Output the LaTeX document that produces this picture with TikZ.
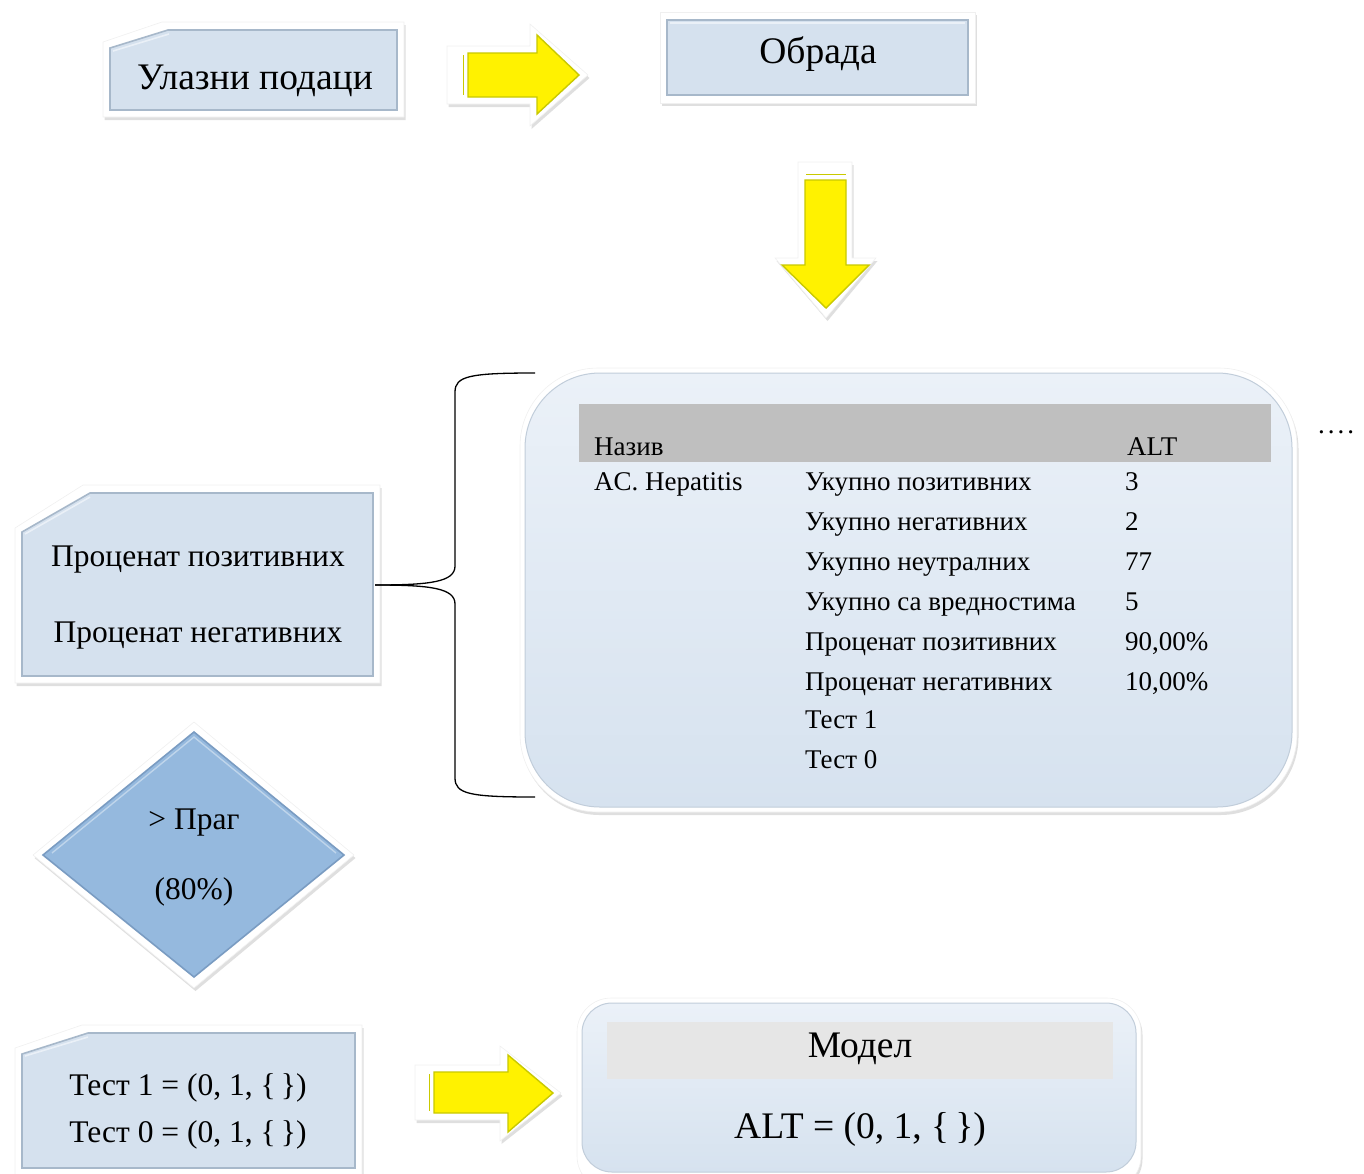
\documentclass[tikz,border=0pt]{standalone}
\usepackage{fontspec}
\setmainfont{Liberation Serif}
\usetikzlibrary{shadows,calc}
\definecolor{panelblue}{HTML}{D5E1EE}
\definecolor{paneledge}{HTML}{A7B8CA}
\definecolor{panellight}{HTML}{EAF0F7}
\definecolor{diafill}{HTML}{95B9DE}
\definecolor{diaedge}{HTML}{7A9CC2}
\definecolor{yellowedge}{HTML}{C9C900}
\definecolor{headgrey}{HTML}{BFBFBF}
\definecolor{modgrey}{HTML}{E6E6E6}
\definecolor{tabtop}{HTML}{EBF1F8}
\definecolor{tabbot}{HTML}{D6E2EF}
\tikzset{
  glow/.style={fill=white, draw=black!6, line width=0.6pt,
    drop shadow={shadow xshift=1.5pt, shadow yshift=-3pt, opacity=0.18, fill=black!70}},
  panel/.style={fill=panelblue, draw=paneledge, line width=1.6pt, line join=miter},
  hilite/.style={draw=panellight, line width=1.6pt},
  yarrow/.style={fill=yellow, draw=yellowedge, line width=1.4pt, line join=miter},
  big/.style={font=\fontsize{37.5}{42}\selectfont, inner sep=0pt},
  mid/.style={font=\fontsize{31.5}{35}\selectfont, inner sep=0pt},
  tbl/.style={font=\fontsize{27}{31}\selectfont, anchor=base west, inner sep=0pt},
}
\begin{document}
\begin{tikzpicture}[x=1pt,y=-1pt]
\useasboundingbox (0,0) rectangle (1364,1173);

% ---- Box: Ulazni podaci
\draw[glow] (103,42) -- (162,22) -- (404,22) -- (404,117) -- (103,117) -- cycle;
\draw[panel] (110,48) -- (168,30) -- (397,30) -- (397,110) -- (110,110) -- cycle;
\draw[hilite] (113,51) -- (169,34);
\node[big] (ulaz) at (255,81) {Улазни подаци};

% ---- Arrow 1
\draw[glow] (447,46) -- (530,46) -- (530,24) -- (588,75) -- (530,126) -- (530,104) -- (447,104) -- cycle;
\draw[yarrow] (468,53) -- (537,53) -- (537,35) -- (579,75) -- (537,114) -- (537,97) -- (468,97) -- cycle;
\draw[yellowedge, line width=1pt] (463,55) -- (463,95);

% ---- Box: Obrada
\draw[glow] (660,12) rectangle (975,103);
\draw[panel] (667,20) rectangle (968,95);
\draw[hilite] (670,23) -- (965,23);
\node[big] (obrada) at (818,54) {Обрада};

% ---- Arrow down
\draw[glow] (798,162) -- (852,162) -- (852,258) -- (876,258) -- (826,318) -- (775,258) -- (798,258) -- cycle;
\draw[yarrow] (805,180) -- (846,180) -- (846,265) -- (869,265) -- (826,308) -- (782,265) -- (805,265) -- cycle;
\draw[yellowedge, line width=1pt] (806,174) -- (846,174);

% ---- Big table box
\draw[glow, rounded corners=78pt] (520,368) rectangle (1297,812);
\shade[top color=tabtop, bottom color=tabbot, draw=paneledge!70, line width=1pt, rounded corners=75pt]
  (525,373) rectangle (1292,807);
\fill[headgrey] (579,404) rectangle (1271,462);
\node[tbl] (hnaz) at (594,455) {Назив};
\node[tbl] (halt) at (1127,455) {ALT};
\node[tbl] (hep) at (594,490) {AC. Hepatitis};
\node[tbl] (r1) at (805,490) {Укупно позитивних};
\node[tbl] (r2) at (805,530) {Укупно негативних};
\node[tbl] (r3) at (805,570) {Укупно неутралних};
\node[tbl] (r4) at (805,610) {Укупно са вредностима};
\node[tbl] (r5) at (805,650) {Проценат позитивних};
\node[tbl] (r6) at (805,690) {Проценат негативних};
\node[tbl] (r7) at (805,728) {Тест 1};
\node[tbl] (r8) at (805,768) {Тест 0};
\node[tbl] (v1) at (1125,490) {3};
\node[tbl] (v2) at (1125,530) {2};
\node[tbl] (v3) at (1125,570) {77};
\node[tbl] (v4) at (1125,610) {5};
\node[tbl] (v5) at (1125,650) {90,00\%};
\node[tbl] (v6) at (1125,690) {10,00\%};
\node[tbl] (dots) at (1318,433) {.\hspace{3pt}.\hspace{3pt}.\hspace{3pt}.};

% ---- Box: Procenat
\draw[glow] (15,528) -- (83,485) -- (380,485) -- (380,683) -- (15,683) -- cycle;
\draw[panel] (22,532) -- (90,493) -- (373,493) -- (373,676) -- (22,676) -- cycle;
\draw[hilite] (25,534) -- (90,497);
\node[mid] (ppos) at (198,560) {Проценат позитивних};
\node[mid] (pneg) at (198,636) {Проценат негативних};
\coordinate (proc) at (375,585);

% ---- Brace connector
\coordinate (btop) at (535,373);
\coordinate (bbot) at (535,797);
\draw[line width=1.3pt] (btop) .. controls (470,373) and (455,376) .. (455,392) -- (455,566)
  .. controls (455,582) and (430,585) .. (proc);
\draw[line width=1.3pt] (bbot) .. controls (470,797) and (455,794) .. (455,778) -- (455,604)
  .. controls (455,588) and (430,585) .. (proc);

% ---- Diamond
\draw[glow, line join=round] (194,722) -- (354,855) -- (194,988) -- (33,855) -- cycle;
\draw[fill=diafill, draw=diaedge, line width=1.6pt] (194,732) -- (344,855) -- (194,977) -- (43,855) -- cycle;
\draw[draw=diafill!60!white, line width=1.4pt] (52,853) -- (194,737) -- (336,853);
\node[mid] (prag) at (194,823) {> Праг};
\node[mid] (pct) at (194,892) {(80\%)};

% ---- Box: Test
\draw[glow] (15,1048) -- (82,1025) -- (362,1025) -- (362,1180) -- (15,1180) -- cycle;
\draw[panel] (22,1054) -- (88,1033) -- (355,1033) -- (355,1168) -- (22,1168) -- cycle;
\draw[hilite] (25,1056) -- (88,1037);
\node[mid] (t1) at (188,1088) {Тест 1 = (0, 1, \{\,\})};
\node[mid] (t0) at (188,1135) {Тест 0 = (0, 1, \{\,\})};

% ---- Arrow 3
\draw[glow] (415,1065) -- (500,1065) -- (500,1046) -- (561,1093) -- (500,1141) -- (500,1120) -- (415,1120) -- cycle;
\draw[yarrow] (434,1072) -- (508,1072) -- (508,1055) -- (553,1093) -- (508,1132) -- (508,1113) -- (434,1113) -- cycle;
\draw[yellowedge, line width=1pt] (429,1074) -- (429,1111);

% ---- Model box
\draw[glow, rounded corners=34pt] (577,998) rectangle (1141,1190);
\shade[top color=tabtop, bottom color=tabbot, draw=paneledge!70, line width=1pt, rounded corners=30pt]
  (582,1003) rectangle (1136,1172);
\fill[modgrey] (607,1022) rectangle (1113,1079);
\node[big] (model) at (860,1049) {Модел};
\node[big] (altm) at (860,1129) {ALT = (0, 1, \{\,\})};
\end{tikzpicture}
\end{document}
